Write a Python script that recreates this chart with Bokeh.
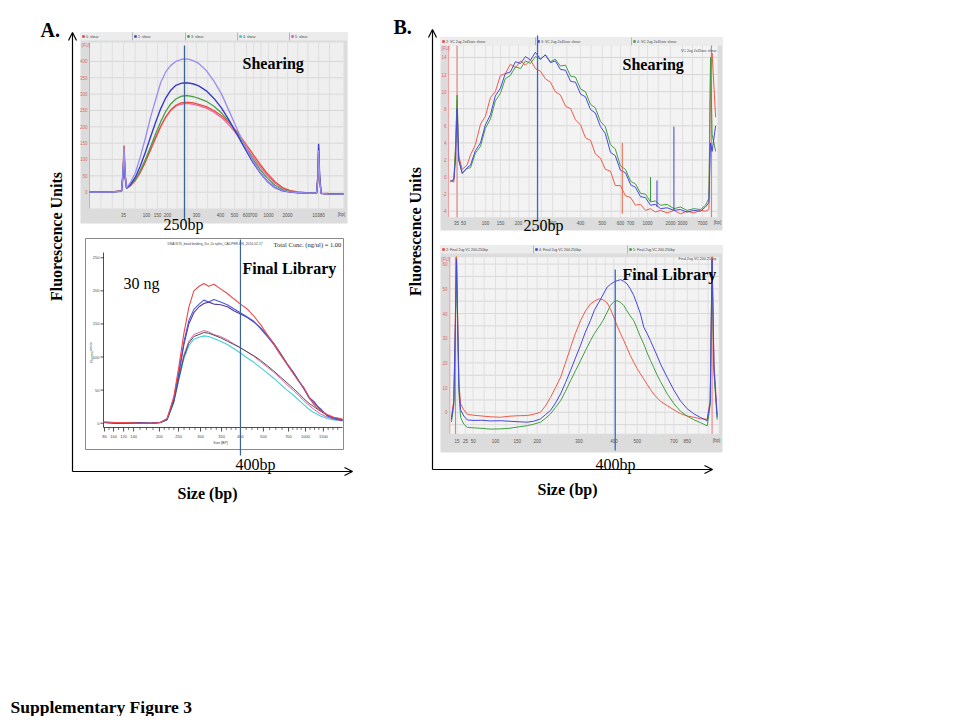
from bokeh.plotting import figure
from bokeh.models import Range1d, Arrow, OpenHead, Label
from bokeh.core.properties import value
from bokeh.embed import file_html
from bokeh.resources import INLINE

SERIF = "Liberation Serif"
SANS = "Liberation Sans"
W, H = 956, 716  # canvas size in page pixels

# ---------------- data ----------------
# x of every trace = position along the run, 0..100 % of the plot width

# A. shearing (FU)
at_x = [0, 8, 12.6, 13.2, 13.6, 14.0, 14.6, 16, 18, 20, 22, 24, 26, 28, 30, 32, 34, 36, 37.4, 39,
        41, 43, 46, 49, 52, 55, 58, 61, 64, 67, 70, 73, 76, 79, 82, 86, 89.4, 89.9, 90.2, 90.6,
        91.2, 94, 100]
at_lav = [0, 0, 3, 60, 135, 55, 14, 28, 58, 108, 165, 228, 282, 335, 368, 388, 400, 406, 408, 407,
          402, 394, 372, 340, 300, 248, 195, 145, 100, 63, 34, 15, 5, 1, -1, -3, -3, 40, 128, 40,
          -4, -5, -6]
at_blue = [0, 0, 3, 50, 115, 45, 12, 22, 45, 80, 122, 168, 213, 255, 288, 312, 327, 333, 335, 334,
           331, 325, 310, 287, 257, 220, 178, 136, 96, 61, 33, 14, 4, 0, -2, -3, -3, 50, 148, 50,
           -4, -5, -6]
at_green = [0, 0, 3, 55, 125, 50, 12, 20, 38, 66, 100, 138, 178, 215, 247, 270, 285, 293, 295, 295,
            292, 287, 278, 263, 242, 215, 181, 143, 105, 71, 43, 21, 8, 2, -1, -3, -3, 45, 135, 45,
            -4, -5, -6]
at_red = [0, 0, 4, 65, 143, 58, 13, 19, 35, 60, 92, 128, 165, 200, 230, 252, 266, 273, 275, 275,
          273, 269, 262, 250, 234, 212, 185, 153, 120, 87, 57, 32, 14, 5, 1, -2, -3, 38, 120, 38,
          -4, -5, -6]
at_pink = [1, 1, 4, 62, 140, 56, 14, 21, 38, 64, 96, 131, 167, 201, 229, 250, 263, 269, 271, 271,
           269, 265, 257, 245, 228, 205, 177, 145, 112, 80, 51, 28, 12, 4, 0, -2, -2, 40, 125, 40,
           -3, -4, -5]
at_yticks = [0, 50, 100, 150, 200, 250, 300, 350, 400]
at_tick_pos = [13.4, 22.4, 26.8, 30.7, 42.1, 51.6, 57.1, 61.8, 64.6, 70.5, 78, 90.2, 99.2]
at_tick_lab = ["35", "100", "150", "200", "300", "400", "500", "600", "700", "1000", "2000",
               "10380", "[bp]"]
at_vgrid = [4.5, 9, 13.4, 18, 22.4, 26.8, 30.7, 34.5, 38.5, 42.1, 46.5, 51.6, 57.1, 61.8, 64.6,
            67.5, 70.5, 74, 78, 82, 86, 90.2, 94.5]
at_samples = ["0: shear", "1: shear", "3: shear", "4: shear", "5: shear"]
at_sample_colors = ["#e03c3c", "#3c3cc8", "#3c9c3c", "#30c8c8", "#d050d0"]
at_mark = 37.4  # 250 bp

# A. final library (fluorescence)
ab_x = [0, 5, 10, 15, 20, 23.8, 26.6, 29.4, 31.5, 33.6, 35.7, 37.8, 40, 42, 44, 46.2, 49, 51.8,
        54.5, 57.3, 60, 62.9, 65.7, 68.5, 71.2, 74, 76.8, 79.6, 81.7, 83.8, 86, 88, 90.8, 93.6,
        96.4, 99.2, 100]
ab_red = [2, 1, 1, 0, 0, 1, 7, 40, 85, 135, 175, 200, 207, 211, 207, 210, 203, 196, 188, 180,
          173, 162, 149, 134, 120, 104, 89, 74, 63, 54, 40, 28, 19, 13, 9, 7, 6]
ab_blue = [1, 1, 0, 0, 0, 1, 6, 36, 77, 122, 155, 172, 180, 186, 183, 187, 183, 179, 173, 167,
           161, 154, 143, 131, 119, 104, 89, 75, 64, 53, 38, 30, 22, 11, 7, 5, 5]
ab_purple = [1, 0, 0, 1, 0, 1, 6, 34, 74, 118, 150, 167, 176, 181, 183, 180, 179, 176, 170, 165,
             160, 153, 144, 133, 121, 106, 90, 76, 64, 52, 39, 33, 20, 12, 8, 6, 5]
ab_pink = [1, 1, 0, 0, 0, 1, 6, 34, 70, 103, 124, 134, 137, 140, 138, 134, 131, 126, 120, 114,
           108, 101, 93, 85, 77, 68, 58, 49, 42, 34, 27, 21, 14, 9, 6, 4, 4]
ab_gray = [1, 0, 1, 0, 0, 1, 5, 32, 67, 100, 121, 131, 134, 137, 136, 133, 129, 124, 119, 114,
           108, 102, 95, 87, 79, 70, 61, 52, 45, 37, 30, 25, 18, 12, 7, 5, 4]
ab_cyan = [1, 1, 0, 0, 0, 1, 5, 31, 65, 97, 117, 127, 130, 132, 131, 128, 124, 119, 113, 106,
           99, 92, 84, 76, 68, 59, 50, 42, 35, 28, 21, 16, 11, 7, 5, 4, 3]
ab_yticks = [0, 50, 100, 150, 200, 250]
ab_tick_pos = [0.4, 4.2, 8.4, 12.6, 23.4, 31.4, 40.6, 49.4, 57.3, 66.9, 77.4, 84.5, 92]
ab_tick_lab = ["80", "100", "120", "140", "200", "250", "300", "350", "400", "500", "700",
               "1000", "1500"]
ab_minor = [2.3, 6.3, 10.5, 15.3, 18, 20.7, 25.4, 27.4, 29.4, 33.7, 36, 38.3, 42.8, 45, 47.2,
            51.4, 53.4, 55.4, 59.7, 62.1, 64.5, 69.5, 72.1, 74.7, 79.2, 81, 82.7, 86.4, 88.3,
            90.1, 94, 96, 98]
ab_mark = 57.3  # 400 bp

# B. shearing (FU)
bt_x = [0.7, 2.0, 2.6, 3.2, 3.8, 5.1, 6.9, 8.2, 10.0, 11.9, 13.7, 15.6, 17.4, 19.3, 21.1, 23.0,
        24.9, 26.8, 28.6, 30.5, 32.3, 34.2, 36.0, 37.9, 39.7, 41.6, 43.5, 45.4, 47.2, 49.1, 50.9,
        52.8, 54.6, 56.5, 58.3, 60.2, 62.0, 63.9, 65.8, 67.7, 69.5, 71.4, 73.2, 75.1, 76.9, 78.8,
        81.3, 83.8, 86.2, 88.7, 91.2, 93.7, 95.5, 96.8, 97.4, 98.0, 99.3]
bt_red = [-0.4, -0.6, 3.0, 9.0, 2.5, 0.9, 1.4, 2.6, 3.8, 6.2, 7.1, 9.3, 10.0, 11.9, 12.1, 13.2,
          12.8, 13.6, 13.1, 13.7, 12.7, 12.4, 11.5, 11.1, 10.0, 9.6, 8.3, 8.0, 6.7, 6.1, 4.6, 4.3,
          2.7, 2.2, 0.9, 0.7, -1.0, -1.0, -2.2, -2.4, -3.3, -3.2, -3.9, -3.7, -4.1, -3.9, -4.2,
          -3.9, -4.3, -4.0, -4.2, -3.9, -4.0, -3.8, 12.0, 14.5, 7.0]
bt_blue = [-0.5, -0.3, 2.0, 8.0, 2.0, 0.4, 1.1, 1.4, 3.1, 4.0, 6.1, 7.3, 9.5, 10.4, 12.1, 12.3,
           13.5, 13.3, 14.1, 13.7, 14.6, 13.8, 14.3, 13.4, 13.6, 12.6, 12.5, 11.2, 11.1, 9.7, 9.4,
           7.9, 7.5, 5.9, 5.1, 2.9, 2.5, 0.8, 0.5, -0.9, -1.2, -2.3, -2.4, -3.3, -3.2, -3.7, -3.6,
           -3.9, -3.8, -4.1, -3.9, -4.0, -3.5, -3.0, 4.0, 3.0, 6.0]
bt_green = [-0.6, -0.2, 3.5, 9.6, 2.0, 0.5, 1.0, 1.1, 2.8, 3.6, 5.7, 6.8, 8.9, 9.8, 11.5, 11.9,
            12.9, 12.7, 13.6, 13.3, 14.1, 13.8, 14.3, 13.5, 13.8, 13.0, 13.1, 11.8, 11.7, 10.3,
            10.0, 8.5, 8.1, 6.5, 5.9, 3.8, 3.3, 1.3, 0.9, -0.5, -0.8, -1.9, -2.0, -2.9, -2.8, -3.3,
            -3.2, -3.7, -3.5, -3.9, -3.7, -3.8, -3.3, -2.5, 14.0, 5.0, 3.0]
bt_spike_x = [64.6, 75.1, 77.5, 83.8]
bt_spike_lo = [-4.3, -2.9, -3.5, -3.9]
bt_spike_hi = [4.0, 0.0, -0.4, 5.9]
bt_spike_col = ["#f06040", "#3c9c3c", "#4040d0", "#4040d0"]
bt_yticks = [-4, -2, 0, 2, 4, 6, 8, 10, 12, 14]
bt_tick_pos = [3, 5.6, 13.8, 19.3, 26, 38.7, 49.1, 57.2, 63.9, 67.7, 74, 82.5, 87, 94.4, 100]
bt_tick_lab = ["35", "50", "100", "150", "200", "300", "400", "500", "600", "700", "1000",
               "2000", "3000", "7000", "[bp]"]
bt_vgrid = [3, 5.6, 9.7, 13.8, 16.5, 19.3, 22.6, 26, 30, 34.5, 38.7, 44, 49.1, 53, 57.2, 60.5,
            63.9, 67.7, 70.8, 74, 78, 82.5, 87, 90.7, 94.4, 97.5]
bt_markers = [3.2, 97.8]
bt_samples = ["2: VC 2ug 2x45sec shear", "3: VC 2ug 2x45sec shear", "4: VC 2ug 2x45sec shear"]
bt_mark = 33.1  # 250 bp

# B. final library (FU)
bb_x = [0.6, 1.5, 2.1, 2.5, 2.9, 3.4, 4.0, 5.2, 6.5, 9.0, 12.0, 15.0, 18.8, 22.0, 25.0, 28.8,
        31.2, 33.7, 35.5, 37.4, 39.3, 41.2, 43.0, 44.9, 46.7, 48.6, 50.4, 52.3, 53.8, 55.4, 56.9,
        58.5, 59.7, 61.0, 62.2, 63.5, 64.7, 65.9, 67.1, 68.4, 69.6, 70.9, 72.1, 73.4, 74.6, 75.8,
        77.1, 78.3, 80.8, 83.3, 85.7, 88.2, 90.7, 93.2, 95.7, 96.8, 97.5, 98.2, 99.4]
bb_red = [-2, 5, 40, 63, 40, 12, 3.5, 1.0, -0.8, -1.2, -1.5, -1.8, -2.0, -1.6, -1.4, -1.3, -0.8,
          0.0, 2.5, 6.0, 10.0, 14.2, 20.0, 26.3, 32.0, 37.1, 41.0, 43.9, 45.0, 45.9, 45.6, 44.3,
          41.8, 38.5, 35.0, 31.8, 29.0, 26.0, 23.0, 20.2, 17.8, 15.5, 13.5, 11.2, 9.2, 7.4, 5.8,
          4.5, 2.7, 1.0, -0.5, -1.5, -2.0, -2.6, -2.8, 5, 63, 20, -1]
bb_blue = [-3, 4, 38, 62, 38, 10, 1.0, -1.5, -3.1, -3.3, -3.2, -3.5, -3.4, -3.6, -3.8, -4.0,
           -3.6, -2.7, -1.0, 0.7, 3.8, 7.5, 12.0, 17.0, 22.0, 27.1, 32.5, 37.2, 41.5, 44.5, 47.5,
           50.7, 51.8, 52.7, 53.3, 53.7, 53.0, 52.0, 50.0, 47.3, 43.8, 39.8, 34.5, 31.8, 29.0,
           26.0, 22.8, 19.6, 14.2, 9.0, 4.7, 1.5, -0.6, -2.1, -3.4, 4, 62, 18, -2]
bb_green = [-4, 3, 35, 60, 35, 8, -2.0, -4.8, -6.1, -6.3, -6.5, -6.8, -6.7, -6.5, -6.0, -5.4,
            -4.8, -4.0, -2.5, -0.7, 2.0, 4.7, 8.5, 12.8, 16.8, 20.9, 25.0, 29.0, 32.0, 34.5, 37.1,
            40.5, 43.2, 44.8, 45.2, 44.5, 43.2, 41.0, 39.0, 37.1, 34.0, 30.5, 27.7, 24.0, 21.0,
            18.2, 15.0, 12.5, 7.5, 3.5, 0.5, -1.5, -3.0, -4.2, -5.5, 3, 60, 16, -3]
bb_yticks = [0, 10, 20, 30, 40, 50, 60]
bb_hgrid = [-5, 0, 5, 10, 15, 20, 25, 30, 35, 40, 45, 50, 55, 60]
bb_tick_pos = [2.7, 5.8, 8.7, 17, 25.1, 32.5, 48, 61, 69.7, 83.3, 88.3, 99.1]
bb_tick_lab = ["15", "25", "50", "100", "150", "200", "300", "400", "500", "700", "850", "[bp]"]
bb_vgrid = [2.7, 5.8, 8.7, 12.8, 17, 21, 25.1, 28.8, 32.5, 36.4, 40.3, 44.2, 48, 51.2, 54.5,
            57.8, 61, 65.3, 69.7, 73.2, 76.6, 80, 83.3, 88.3, 92.5, 96]
bb_markers = [2.1, 97.5]
bb_samples = ["2: Final 2ug VC 200-250bp", "4: Final 2ug VC 200-250bp", "5: Final 2ug VC 200-250bp"]
bb_mark = 61.5  # 400 bp

# ---------------- canvas: one figure in page pixels ----------------
p = figure(width=W, height=H, x_range=Range1d(0, W), y_range=Range1d(H, 0),
           output_backend="svg", toolbar_location=None, x_axis_type=None, y_axis_type=None,
           min_border=0, title=None)
p.outline_line_color = None
p.background_fill_color = "white"
p.border_fill_color = "white"

xr, yr = {}, {}


def frame(name, x0, x1, y0, y1, xd, yd):
    # ranges that put data box xd/yd onto the page box x0..x1, y0..y1
    kx = (xd[1] - xd[0]) / (x1 - x0)
    ky = (yd[1] - yd[0]) / (y1 - y0)
    xr[name] = Range1d(xd[0] - x0 * kx, xd[1] + (W - x1) * kx)
    yr[name] = Range1d(yd[0] - (H - y1) * ky, yd[1] + y0 * ky)


frame("at", 89, 343, 42, 208, (0, 100), (-50, 458))
frame("ab", 103, 342, 250, 427, (0, 100), (-6.5, 261))
frame("bt", 448, 717, 45, 216.7, (0, 100), (-4.7, 15.4))
frame("bb", 449.3, 718.3, 256.7, 433.3, (0, 100), (-8.7, 62.8))
p.extra_x_ranges = xr
p.extra_y_ranges = yr


def box(l, r, t, b, fill, line=None):
    p.quad(left=[l], right=[r], top=[t], bottom=[b], fill_color=fill, line_color=line,
           line_width=1)


def txt(xs, ys, texts, size, color="#444444", font=SANS, align="left", base="middle",
        xn="default", yn="default", angle=0, style="normal"):
    p.text(x=xs, y=ys, text=texts, text_font=value(font), text_font_size=value(size),
           text_color=color, text_align=align, text_baseline=base, angle=angle,
           text_font_style=style, x_range_name=xn, y_range_name=yn)


def header(x0, x1, y0, y1, cuts, labels, colors):
    box(x0, x1, y0, y1, "#ececec")
    p.segment(x0=cuts, x1=cuts, y0=y0, y1=y1, line_color="#a8a8a8", line_width=0.8)
    starts = [x0] + cuts
    p.rect(x=[s + 3 for s in starts], y=(y0 + y1) / 2, width=2.5, height=2.5,
           fill_color=colors, line_color=None)
    txt([s + 5.5 for s in starts], [(y0 + y1) / 2] * len(starts), labels, "3.5px")


def curve(name, xs, ys, color, width=1.2, alpha=1.0):
    p.line(xs, ys, line_color=color, line_width=width, line_alpha=alpha,
           x_range_name=name, y_range_name=name)


# ---------- A top: shearing ----------
box(80, 347, 32, 223, "#dcdcdc")
header(80, 347, 32, 40, [132, 185, 237, 289], at_samples, at_sample_colors)
box(89, 343, 42, 208, "#efefef")
p.segment(x0=0, x1=100, y0=at_yticks, y1=at_yticks, line_color="#d2d2d2", line_width=0.8,
          x_range_name="at", y_range_name="at")
p.segment(x0=at_vgrid, x1=at_vgrid, y0=-50, y1=458, line_color="#d8d8d8", line_width=0.7,
          x_range_name="at", y_range_name="at")
p.segment(x0=0, x1=0, y0=-50, y1=458, line_color="#f2a0a0", line_width=1,
          x_range_name="at", y_range_name="at")
txt([87] * len(at_yticks), at_yticks, [str(v) for v in at_yticks], "4.5px", color="#e06a6a",
    align="right", yn="at")
txt([81], [45], ["[FU]"], "4.5px", color="#e06a6a")
txt(at_tick_pos, [214] * len(at_tick_pos), at_tick_lab, "4.5px", color="#555555",
    align="center", xn="at")
curve("at", at_x, at_pink, "#e868a8", 1.3)
curve("at", at_x, at_red, "#e8503c", 1.3)
curve("at", at_x, at_green, "#48a048", 1.3)
curve("at", at_x, at_blue, "#3a3ad0", 1.4)
curve("at", at_x, at_lav, "#9a8cf0", 1.3)
p.segment(x0=at_mark, x1=at_mark, y0=45, y1=220, line_color="#3a6496", line_width=1.3,
          x_range_name="at")

# ---------- A bottom: final library ----------
box(85, 343, 238, 449, "white", line="#8a8a8a")
txt([167], [243], ["DNA#670_bead binding_3cc 2x splits_CALIPER-HS_2014-02-17"], "3.3px")
txt([273], [243.5], ["Total Conc. (ng/ul) = 1.00"], "6.5px", color="#222222", font=SERIF)
p.segment(x0=0, x1=0, y0=-6.5, y1=258, line_color="#222222", line_width=0.8,
          x_range_name="ab", y_range_name="ab")
p.segment(x0=0, x1=100, y0=-6.5, y1=-6.5, line_color="#222222", line_width=0.8,
          x_range_name="ab", y_range_name="ab")
p.segment(x0=100, x1=103, y0=ab_yticks, y1=ab_yticks, line_color="#222222", line_width=0.8,
          y_range_name="ab")
p.segment(x0=ab_tick_pos, x1=ab_tick_pos, y0=427, y1=431, line_color="#222222",
          line_width=0.8, x_range_name="ab")
p.segment(x0=ab_minor, x1=ab_minor, y0=427, y1=429.5, line_color="#222222",
          line_width=0.6, x_range_name="ab")
txt([99] * len(ab_yticks), ab_yticks, [str(v) for v in ab_yticks], "4px", align="right",
    yn="ab")
txt(ab_tick_pos, [436] * len(ab_tick_pos), ab_tick_lab, "4px", align="center", xn="ab")
txt([220], [442], ["Size [BP]"], "3.5px", align="center")
txt([91], [352], ["Fluorescence"], "3.5px", align="center", angle=1.5708)
curve("ab", ab_x, ab_cyan, "#40d0d8", 1.1)
curve("ab", ab_x, ab_pink, "#e060a8", 1.0)
curve("ab", ab_x, ab_gray, "#505050", 1.0)
curve("ab", ab_x, ab_purple, "#5a3a96", 1.1)
curve("ab", ab_x, ab_blue, "#4a5ad8", 1.1)
curve("ab", ab_x, ab_red, "#f04848", 1.1)
p.segment(x0=ab_mark, x1=ab_mark, y0=239, y1=455, line_color="#3a6496", line_width=1.2,
          x_range_name="ab")

# ---------- B top: shearing ----------
box(440, 722, 37, 230, "#dcdcdc")
header(440, 722, 37, 45, [535, 631], bt_samples, ["#e03c3c", "#3c3cc8", "#3c9c3c"])
box(448, 717, 45, 216.7, "#f3f3f3")
p.segment(x0=0, x1=100, y0=bt_yticks, y1=bt_yticks, line_color="#d0d0d0", line_width=0.8,
          x_range_name="bt", y_range_name="bt")
p.segment(x0=bt_vgrid, x1=bt_vgrid, y0=-4.7, y1=15.4, line_color="#d8d8d8", line_width=0.7,
          x_range_name="bt", y_range_name="bt")
p.segment(x0=0, x1=0, y0=-4.7, y1=15.4, line_color="#f2a0a0", line_width=1,
          x_range_name="bt", y_range_name="bt")
p.segment(x0=bt_markers, x1=bt_markers, y0=-4.7, y1=15.4, line_color="#f07070", line_width=1,
          x_range_name="bt", y_range_name="bt")
txt([446] * len(bt_yticks), bt_yticks, [str(v) for v in bt_yticks], "4.5px", color="#e06a6a",
    align="right", yn="bt")
txt([441], [48], ["[FU]"], "4.5px", color="#e06a6a")
txt([716], [50], ["VC 2ug 2x45sec shear"], "3.5px", align="right")
txt(bt_tick_pos, [222] * len(bt_tick_pos), bt_tick_lab, "4.5px", color="#555555",
    align="center", xn="bt")
curve("bt", bt_x, bt_red, "#f05a4a", 1.0)
curve("bt", bt_x, bt_green, "#40a040", 1.0)
curve("bt", bt_x, bt_blue, "#4646e0", 1.0)
p.segment(x0=bt_spike_x, x1=bt_spike_x, y0=bt_spike_lo, y1=bt_spike_hi, line_color=bt_spike_col,
          line_width=1, x_range_name="bt", y_range_name="bt")
p.segment(x0=bt_mark, x1=bt_mark, y0=35, y1=220, line_color="#2e6cc8", line_width=1.3,
          x_range_name="bt")

# ---------- B bottom: final library ----------
box(440, 722, 245, 452, "#dcdcdc")
header(440, 722, 245, 253, [533, 627], bb_samples, ["#e03c3c", "#3c3cc8", "#3c9c3c"])
box(449.3, 718.3, 256.7, 433.3, "#f3f3f3")
p.segment(x0=0, x1=100, y0=bb_hgrid, y1=bb_hgrid, line_color="#d2d2d2", line_width=0.8,
          x_range_name="bb", y_range_name="bb")
p.segment(x0=bb_vgrid, x1=bb_vgrid, y0=-8.7, y1=62.8, line_color="#d8d8d8", line_width=0.7,
          x_range_name="bb", y_range_name="bb")
p.segment(x0=0, x1=0, y0=-8.7, y1=62.8, line_color="#f2a0a0", line_width=1,
          x_range_name="bb", y_range_name="bb")
p.segment(x0=bb_markers, x1=bb_markers, y0=-8.7, y1=62.8, line_color="#f07070", line_width=1,
          x_range_name="bb", y_range_name="bb")
txt([447] * len(bb_yticks), bb_yticks, [str(v) for v in bb_yticks], "4.5px", color="#e06a6a",
    align="right", yn="bb")
txt([441], [259], ["[FU]"], "4.5px", color="#e06a6a")
txt([716], [258], ["Final 2ug VC 200-250bp"], "3.5px", align="right")
txt(bb_tick_pos, [440] * len(bb_tick_pos), bb_tick_lab, "4.5px", color="#555555",
    align="center", xn="bb")
curve("bb", bb_x, bb_red, "#f05a4a", 1.0)
curve("bb", bb_x, bb_green, "#40a040", 1.0)
curve("bb", bb_x, bb_blue, "#4646e0", 1.0)
p.segment(x0=bb_mark, x1=bb_mark, y0=269, y1=450, line_color="#2e6cc8", line_width=1.3,
          x_range_name="bb")

# ---------- outer axes and labels ----------
for xs, ys, xe, ye in [(72, 471, 72, 32), (72, 471, 352, 471),
                       (432, 469, 432, 29), (432, 469, 712, 469)]:
    p.add_layout(Arrow(end=OpenHead(size=8, line_width=1.2, line_color="black"),
                       x_start=xs, y_start=ys, x_end=xe, y_end=ye,
                       line_width=1.2, line_color="black"))


def label(x, y, text, size="16px", style="bold", align="left", base="alphabetic", angle=0):
    p.add_layout(Label(x=x, y=y, text=text, text_font=SERIF, text_font_size=size,
                       text_font_style=style, text_color="black", text_align=align,
                       text_baseline=base, angle=angle))


label(40, 29, "A.", size="20px")
label(393, 26, "B.", size="20px")
label(242, 63, "Shearing")
label(622, 64, "Shearing")
label(242, 268, "Final Library")
label(622, 274, "Final Library")
label(123, 283, "30 ng", style="normal")
label(163, 224, "250bp", style="normal")
label(523, 225, "250bp", style="normal")
label(235, 464, "400bp", style="normal")
label(595, 464, "400bp", style="normal")
label(207, 493, "Size (bp)", align="center")
label(567, 489, "Size (bp)", align="center")
label(56, 236, "Fluorescence Units", align="center", base="middle", angle=1.5708)
label(415, 231, "Fluorescence Units", align="center", base="middle", angle=1.5708)
label(10, 706, "Supplementary Figure 3", size="17.5px")

open("out.html", "w").write(file_html(p, INLINE))
